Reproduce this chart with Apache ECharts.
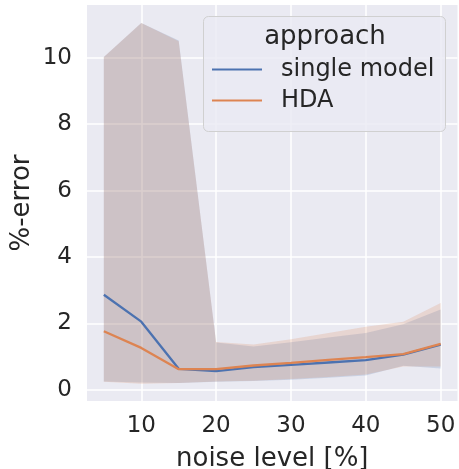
<!DOCTYPE html>
<html>
<head>
<meta charset="utf-8">
<script src="https://cdn.jsdelivr.net/npm/echarts@6/dist/echarts.min.js"></script>
<style>html,body{margin:0;padding:0;background:#fff}#c{width:459px;height:469px}</style>
</head>
<body>
<div id="c"></div>
<script>
const noise = [5, 10, 15, 20, 25, 30, 35, 40, 45, 50];
const singleModel = [2.86, 2.05, 0.63, 0.56, 0.68, 0.75, 0.82, 0.89, 1.06, 1.36];
const hda = [1.76, 1.26, 0.62, 0.62, 0.73, 0.81, 0.90, 0.98, 1.07, 1.38];
const singleUpper = [10.02, 11.05, 10.52, 1.42, 1.30, 1.43, 1.57, 1.71, 1.97, 2.42];
const singleLower = [0.25, 0.22, 0.20, 0.24, 0.26, 0.30, 0.36, 0.43, 0.72, 0.64];
const hdaUpper = [10.02, 11.05, 10.50, 1.44, 1.36, 1.52, 1.71, 1.90, 2.05, 2.61];
const hdaLower = [0.24, 0.18, 0.20, 0.25, 0.27, 0.32, 0.38, 0.46, 0.70, 0.70];
const xTicks = [10, 20, 30, 40, 50];
const yTicks = [0, 2, 4, 6, 8, 10];

const BLUE = '#4c72b0', ORANGE = '#dd8452';
const FONT = 'DejaVu Sans';
const TXT = '#262626';
const pairs = (ys) => noise.map((x, i) => [x, ys[i]]);

function bandSeries(lo, up, color) {
  return {
    type: 'custom', silent: true, z: 1, clip: true,
    data: noise.map((x, i) => [x, lo[i], up[i]]),
    encode: { x: 0, y: [1, 2] },
    renderItem: function (params, api) {
      if (params.dataIndex !== 0) return null;
      const top = [], bot = [];
      for (let i = 0; i < noise.length; i++) {
        top.push(api.coord([noise[i], up[i]]));
        bot.push(api.coord([noise[i], lo[i]]));
      }
      const points = top.concat(bot.reverse());
      return { type: 'polygon', shape: { points: points },
        style: { fill: color, opacity: 0.2, stroke: 'none' } };
    }
  };
}

const chart = echarts.init(document.getElementById('c'), null, { renderer: 'canvas' });
chart.setOption({
  animation: false,
  backgroundColor: '#ffffff',
  grid: { left: 87, top: 5, right: 1.5, bottom: 68, show: true, backgroundColor: '#eaeaf2', borderWidth: 0,
    containLabel: false, outerBoundsMode: 'none' },
  xAxis: {
    type: 'value', min: 2.75, max: 52.25,
    name: 'noise level [%]', nameLocation: 'middle', nameGap: 45, nameMoveOverlap: false,
    nameTextStyle: { fontFamily: FONT, fontSize: 26, color: TXT },
    axisLine: { show: false }, axisTick: { show: false, customValues: xTicks },
    axisLabel: { customValues: xTicks, fontFamily: FONT, fontSize: 23, color: TXT, margin: 14 },
    splitLine: { show: true, lineStyle: { color: '#ffffff', width: 1.5 } }
  },
  yAxis: {
    type: 'value', min: -0.34, max: 11.59,
    name: '%-error', nameLocation: 'middle', nameGap: 52, nameMoveOverlap: false,
    nameTextStyle: { fontFamily: FONT, fontSize: 26, color: TXT },
    axisLine: { show: false }, axisTick: { show: false, customValues: yTicks },
    axisLabel: { customValues: yTicks, fontFamily: FONT, fontSize: 23, color: TXT, margin: 15 },
    splitLine: { show: true, lineStyle: { color: '#ffffff', width: 1.5 } }
  },
  legend: {
    orient: 'vertical', left: 212, top: 57.5, padding: 0, itemWidth: 50, itemHeight: 2, itemGap: 7, z: 20,
    icon: 'rect',
    data: ['single model', 'HDA'],
    textStyle: { fontFamily: FONT, fontSize: 24, color: TXT, padding: [0, 0, 0, 14] }
  },
  graphic: [
    { type: 'rect', z: 10, shape: { x: 203.5, y: 16.5, width: 242, height: 115, r: 5 },
      style: { fill: 'rgba(234,234,242,0.8)', stroke: '#d0d0d0', lineWidth: 1 } },
    { type: 'text', z: 11, x: 325, y: 37,
      style: { text: 'approach', font: '26px "DejaVu Sans"', fill: TXT, align: 'center', verticalAlign: 'middle' } }
  ],
  series: [
    bandSeries(singleLower, singleUpper, BLUE),
    bandSeries(hdaLower, hdaUpper, ORANGE),
    { name: 'single model', type: 'line', data: pairs(singleModel), symbol: 'none',
      lineStyle: { color: BLUE, width: 2.3 }, itemStyle: { color: BLUE }, z: 3 },
    { name: 'HDA', type: 'line', data: pairs(hda), symbol: 'none',
      lineStyle: { color: ORANGE, width: 2.3 }, itemStyle: { color: ORANGE }, z: 4 }
  ]
});
</script>
</body>
</html>
